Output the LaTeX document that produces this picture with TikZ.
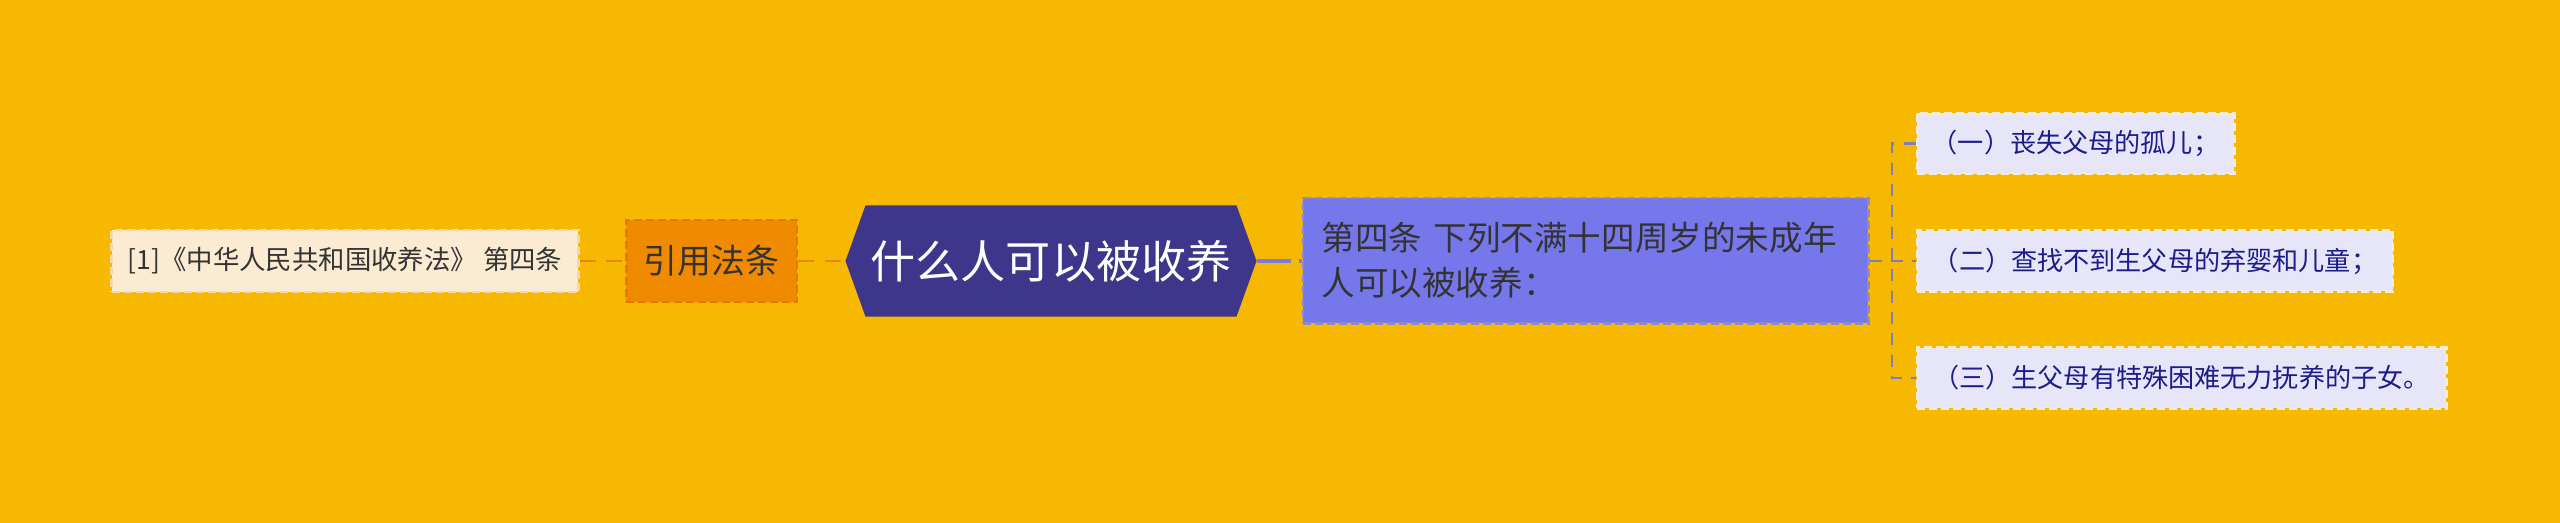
\documentclass[tikz,border=0pt]{standalone}
\usepackage{fontspec}
\setmainfont{Noto Sans CJK SC}
\usetikzlibrary{calc}
\definecolor{bg}{HTML}{F6B800}
\definecolor{srcfill}{HTML}{FCEBD3}
\definecolor{srcline}{HTML}{F3D7AE}
\definecolor{citefill}{HTML}{F08A00}
\definecolor{citeline}{HTML}{E27A00}
\definecolor{rootfill}{HTML}{3E368A}
\definecolor{mainfill}{HTML}{7777EC}
\definecolor{mainline}{HTML}{8C8CC4}
\definecolor{kidfill}{HTML}{E6E6F8}
\definecolor{kidline}{HTML}{F2ECDC}
\definecolor{kidtext}{HTML}{1C1C8C}
\definecolor{orangeconn}{HTML}{E8861A}
\definecolor{blueconn}{HTML}{7B7BE0}
\definecolor{grayconn}{HTML}{7E7EB8}
\definecolor{darktext}{HTML}{333333}
\tikzset{
  px/.style={x=0.375pt,y=-0.375pt},
  boxbase/.style={inner sep=0pt, line width=1pt, dash pattern=on 3pt off 1.5pt},
  srcbox/.style={boxbase, fill=srcfill, draw=srcline, text=darktext, minimum width=175pt, minimum height=23.25pt, font=\fontsize{9.9}{12}\selectfont},
  citebox/.style={boxbase, fill=citefill, draw=citeline, text=darktext, minimum width=64pt, minimum height=30.75pt, font=\fontsize{12.7}{15}\selectfont},
  rootbox/.style={inner sep=0pt, minimum width=153.75pt, minimum height=41.25pt, text=white, font=\fontsize{16.9}{20}\selectfont},
  mainbox/.style={boxbase, fill=mainfill, draw=mainline, text=darktext, minimum width=212pt, minimum height=47pt, text width=198pt, align=left, font=\fontsize{12.6}{16.9}\selectfont},
  kidbox/.style={boxbase, fill=kidfill, draw=kidline, text=kidtext, minimum height=22.75pt, font=\fontsize{9.8}{12}\selectfont},
  orangelink/.style={draw=orangeconn, line width=1.1pt, dash pattern=on 6pt off 4pt},
  bluelink/.style={draw=blueconn, line width=1.2pt, dash pattern=on 13pt off 3pt},
  graylink/.style={draw=grayconn, line width=0.9pt, dash pattern=on 4.5pt off 3.5pt},
}
\begin{document}
\begin{tikzpicture}[px]
\useasboundingbox (0,0) rectangle (2560,522);
\fill[bg] (-10,-10) rectangle (2570,532);
% nodes
\node[srcbox] (src) at (345,261) {[1]《中华人民共和国收养法》 第四条};
\node[citebox] (cite) at (711.5,261) {引用法条};
\node[rootbox] (root) at (1051,261) {};
\fill[rootfill] (root.west) -- ($(root.north west)+(20,0)$) -- ($(root.north east)+(-20,0)$) -- (root.east) -- ($(root.south east)+(-20,0)$) -- ($(root.south west)+(20,0)$) -- cycle;
\node[rootbox] (roottext) at (root.center) {什么人可以被收养};
\node[mainbox] (main) at (1585.5,260.5) {第四条 下列不满十四周岁的未成年\\人可以被收养：};
\node[kidbox, minimum width=119pt] (c1) at (2075.5,143.5) {（一）丧失父母的孤儿；};
\node[kidbox, minimum width=178.5pt] (c2) at (2155,261) {（二）查找不到生父母的弃婴和儿童；};
\node[kidbox, minimum width=198.5pt] (c3) at (2181.5,378) {（三）生父母有特殊困难无力抚养的子女。};
\coordinate (bx) at (1892,261);
% connectors
\draw[orangelink] (src.east) -- (cite.west);
\draw[orangelink] (cite.east) -- (root.west);
\draw[bluelink] (root.east) -- (main.west |- root.east);
\draw[graylink] (main.east |- bx) -- (c2.west);
\draw[graylink] (c1.west) -| (bx) |- (c3.west);
\end{tikzpicture}
\end{document}
